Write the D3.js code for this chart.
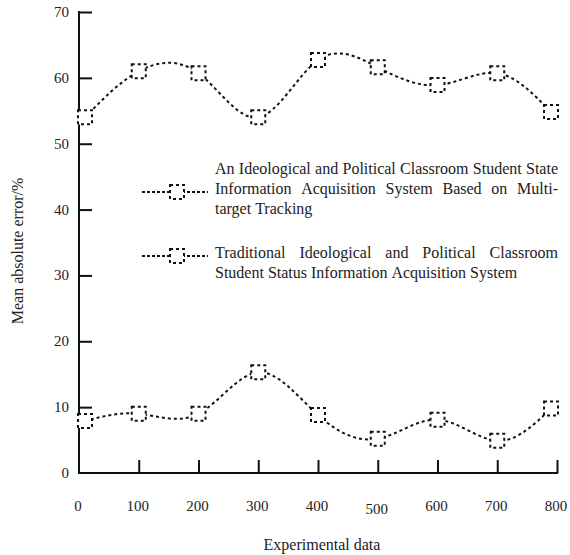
<!DOCTYPE html>
<html>
<head>
<meta charset="utf-8">
<script src="https://cdn.jsdelivr.net/npm/d3@7"></script>
<style>
  body { margin: 0; background: #fff; }
</style>
</head>
<body>
<svg id="chart" width="570" height="555" font-family="'Liberation Serif', 'Times New Roman', Times, serif"></svg>
<script>
// x positions of the experiments
const xValues = [10, 100, 200, 300, 400, 500, 600, 700, 790];
// multi-target tracking system
const trackingSeries = [54.0, 61.0, 60.7, 54.0, 62.7, 61.6, 58.9, 60.7, 54.8];
// traditional system
const traditionalSeries = [7.9, 9.0, 9.0, 15.3, 8.8, 5.2, 8.1, 4.9, 9.8];
const xTicks = [0, 100, 200, 300, 400, 500, 600, 700, 800];
const yTicks = [0, 10, 20, 30, 40, 50, 60, 70];
const legendLines = [
  ['An Ideological and Political Classroom Student State',
   'Information Acquisition System Based on Multi-',
   'target Tracking'],
  ['Traditional Ideological and Political Classroom',
   'Student Status Information Acquisition System']
];

const svg = d3.select('#chart');
const x = d3.scaleLinear().domain([0, 800]).range([79, 557]);
const y = d3.scaleLinear().domain([0, 70]).range([473, 12]);

// axes: ticks point inward, labels placed separately
const xAxis = svg.append('g')
  .attr('transform', `translate(0,${y(0)})`)
  .call(d3.axisTop(x).tickValues(xTicks.slice(1)).tickSize(13).tickFormat('').tickSizeOuter(0));
const yAxis = svg.append('g')
  .attr('transform', `translate(${x(0)},0)`)
  .call(d3.axisRight(y).tickValues(yTicks.slice(1)).tickSize(13).tickFormat('').tickSizeOuter(0));
[xAxis, yAxis].forEach(g => {
  g.selectAll('path, line').attr('stroke', '#111').attr('stroke-width', 2);
});
xAxis.select('.domain').attr('d', `M${x(0) - 1},0H${x(800) + 1}`);
yAxis.select('.domain').attr('d', `M0,${y(0) + 1}V${y(70) - 1}`);

svg.append('g').selectAll('text')
  .data(xTicks)
  .join('text')
  .attr('x', d => x(d) - 1)
  .attr('y', d => d === 500 ? 514 : 511)
  .attr('text-anchor', 'middle')
  .attr('font-size', 15)
  .attr('fill', '#222')
  .text(d => d);

svg.append('g').selectAll('text')
  .data(yTicks)
  .join('text')
  .attr('x', 69)
  .attr('y', d => y(d) + 5)
  .attr('text-anchor', 'end')
  .attr('font-size', 15)
  .attr('fill', '#222')
  .text(d => d);

svg.append('text')
  .attr('x', 322).attr('y', 550)
  .attr('text-anchor', 'middle')
  .attr('font-size', 16)
  .attr('fill', '#222')
  .text('Experimental data');

svg.append('text')
  .attr('transform', 'translate(23,251) rotate(-90)')
  .attr('text-anchor', 'middle')
  .attr('font-size', 16)
  .attr('fill', '#222')
  .text('Mean absolute error/%');

const line = d3.line()
  .x((d, i) => x(xValues[i]))
  .y(d => y(d))
  .curve(d3.curveNatural);

const markerSize = 14;
[trackingSeries, traditionalSeries].forEach(series => {
  svg.append('path')
    .datum(series)
    .attr('d', line)
    .attr('fill', 'none')
    .attr('stroke', '#111')
    .attr('stroke-width', 2)
    .attr('stroke-dasharray', '3,3');
  svg.append('g').selectAll('rect')
    .data(series)
    .join('rect')
    .attr('x', (d, i) => x(xValues[i]) - markerSize / 2)
    .attr('y', d => y(d) - markerSize / 2)
    .attr('width', markerSize)
    .attr('height', markerSize)
    .attr('fill', '#fff')
    .attr('stroke', '#111')
    .attr('stroke-width', 2)
    .attr('stroke-dasharray', '3,3');
});

// legend, text justified between two edges
const legendTextX = 215, legendTextRight = 558;
const legendTops = [169, 253];
const markerRows = [1, 0];
legendLines.forEach((lines, k) => {
  const g = svg.append('g');
  lines.forEach((ln, j) => {
    const yy = legendTops[k] + j * 20 + 5;
    const words = ln.split(' ');
    const lt = g.append('text').attr('y', yy).attr('font-size', 16).attr('fill', '#222');
    const spans = words.map(w => lt.append('tspan').text(w));
    const widths = spans.map(s => s.node().getComputedTextLength());
    const last = j === lines.length - 1;
    const total = d3.sum(widths);
    const gap = (!last && words.length > 1)
      ? (legendTextRight - legendTextX - total) / (words.length - 1)
      : 4;
    let cx = legendTextX;
    spans.forEach((s, i) => { s.attr('x', cx); cx += widths[i] + gap; });
  });
  const my = legendTops[k] + markerRows[k] * 20 + 3;
  g.append('line')
    .attr('x1', 142).attr('x2', 208)
    .attr('y1', my).attr('y2', my)
    .attr('stroke', '#111').attr('stroke-width', 2)
    .attr('stroke-dasharray', '3,2');
  g.append('rect')
    .attr('x', 177 - markerSize / 2).attr('y', my - markerSize / 2)
    .attr('width', markerSize).attr('height', markerSize)
    .attr('fill', '#fff').attr('stroke', '#111')
    .attr('stroke-width', 2).attr('stroke-dasharray', '3,3');
});
</script>
</body>
</html>
